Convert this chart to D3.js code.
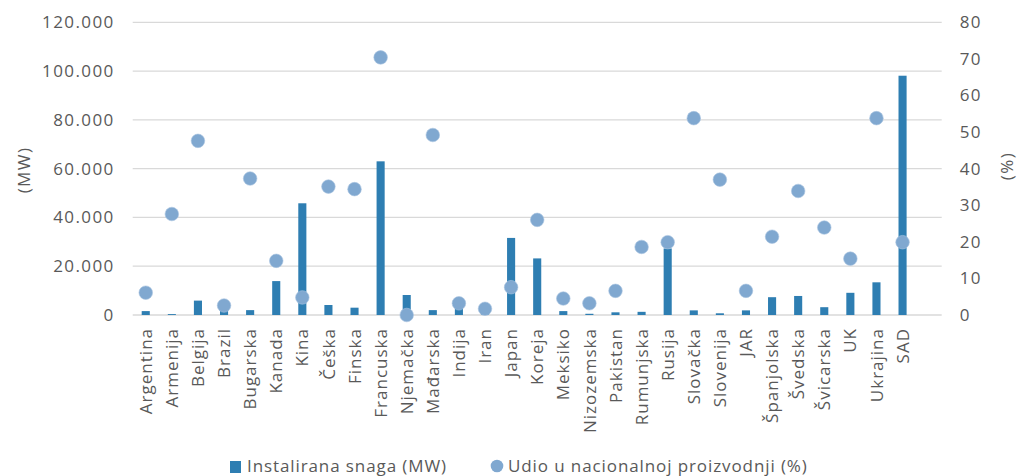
<!DOCTYPE html>
<html>
<head>
<meta charset="utf-8">
<script src="https://cdn.jsdelivr.net/npm/d3@7"></script>
<style>
  body { margin: 0; background: #fff; }
  text { font-family: "Open Sans", sans-serif; fill: #595959; }
</style>
</head>
<body>
<div id="chart"></div>
<script>
const width = 1019;
const height = 476;

// countries on the x axis
const countries = ["Argentina", "Armenija", "Belgija", "Brazil", "Bugarska", "Kanada", "Kina", "Češka",
  "Finska", "Francuska", "Njemačka", "Mađarska", "Indija", "Iran", "Japan", "Koreja", "Meksiko",
  "Nizozemska", "Pakistan", "Rumunjska", "Rusija", "Slovačka", "Slovenija", "JAR", "Španjolska",
  "Švedska", "Švicarska", "UK", "Ukrajina", "SAD"];

// installed capacity (MW)
const capacity = [1600, 375, 5900, 1900, 2000, 13900, 45800, 4100,
  3000, 63000, 8200, 2000, 4000, 900, 31600, 23200, 1600,
  500, 1100, 1300, 27300, 1900, 700, 1900, 7300,
  7800, 3200, 9100, 13400, 98100];

// share in national production (%)
const share = [6.1, 27.6, 47.6, 2.6, 37.3, 14.8, 4.8, 35.1,
  34.4, 70.4, 0, 49.2, 3.2, 1.7, 7.6, 26.0, 4.5,
  3.2, 6.6, 18.6, 19.9, 53.8, 37.0, 6.6, 21.4,
  33.9, 23.9, 15.4, 53.8, 19.9];

const leftTicks = [0, 20000, 40000, 60000, 80000, 100000, 120000];
const rightTicks = [0, 10, 20, 30, 40, 50, 60, 70, 80];

const plotLeft = 132.7, plotRight = 941.7, plotTop = 22.3, plotBottom = 315;
// the category axis leaves one empty slot at the right end
const step = (plotRight - plotLeft) / (countries.length + 1);

const svg = d3.select("#chart").append("svg")
  .attr("width", width)
  .attr("height", height);

const x = d3.scaleBand()
  .domain(countries)
  .range([plotLeft, plotLeft + step * countries.length])
  .paddingInner(0.69)
  .paddingOuter(0.345);

const yL = d3.scaleLinear().domain([0, 120000]).range([plotBottom, plotTop]);
const yR = d3.scaleLinear().domain([0, 80]).range([plotBottom, plotTop]);

const fmt = d => d === 0 ? "0" : d3.format(",")(d).replace(/,/g, ".");

// gridlines
svg.append("g")
  .selectAll("line")
  .data(leftTicks)
  .join("line")
  .attr("x1", plotLeft)
  .attr("x2", plotRight)
  .attr("y1", d => yL(d))
  .attr("y2", d => yL(d))
  .attr("stroke", "#d9d9d9")
  .attr("stroke-width", 1.3);

// left axis
const leftAxis = svg.append("g")
  .attr("transform", `translate(${plotLeft - 18},0)`)
  .call(d3.axisLeft(yL).tickValues(leftTicks).tickFormat(fmt).tickSize(0).tickPadding(0));
leftAxis.select(".domain").remove();
leftAxis.selectAll("text")
  .attr("font-size", "17px")
  .attr("letter-spacing", "1.4px")
  .attr("font-family", "Open Sans")
  .attr("fill", "#595959");

// right axis
const rightAxis = svg.append("g")
  .attr("transform", `translate(${plotRight + 18},0)`)
  .call(d3.axisRight(yR).tickValues(rightTicks).tickSize(0).tickPadding(0));
rightAxis.select(".domain").remove();
rightAxis.selectAll("text")
  .attr("font-size", "17px")
  .attr("letter-spacing", "1.4px")
  .attr("font-family", "Open Sans")
  .attr("fill", "#595959");

// axis titles
svg.append("text")
  .attr("transform", "translate(30,170) rotate(-90)")
  .attr("text-anchor", "middle")
  .attr("font-size", "17px")
  .attr("letter-spacing", "1.4px")
  .text("(MW)");

svg.append("text")
  .attr("transform", "translate(1013,166) rotate(-90)")
  .attr("text-anchor", "middle")
  .attr("font-size", "17px")
  .attr("letter-spacing", "1.4px")
  .text("(%)");

// bars
svg.append("g")
  .selectAll("rect")
  .data(countries)
  .join("rect")
  .attr("x", d => x(d))
  .attr("y", (d, i) => yL(capacity[i]))
  .attr("width", x.bandwidth())
  .attr("height", (d, i) => plotBottom - yL(capacity[i]))
  .attr("fill", "#2e7eb2");

// dots
svg.append("g")
  .selectAll("circle")
  .data(countries)
  .join("circle")
  .attr("cx", d => x(d) + x.bandwidth() / 2)
  .attr("cy", (d, i) => yR(share[i]))
  .attr("r", 6.8)
  .attr("fill", "#80a8d0")
  .attr("stroke", "#a9c4e0")
  .attr("stroke-width", 0.6);

// category labels
svg.append("g")
  .selectAll("text")
  .data(countries)
  .join("text")
  .attr("transform", d => `translate(${x(d) + x.bandwidth() / 2},${plotBottom + 13}) rotate(-90)`)
  .attr("text-anchor", "end")
  .attr("dy", "0.36em")
  .attr("font-size", "17px")
  .attr("letter-spacing", "1px")
  .text(d => d);

// legend
const legend = svg.append("g");
legend.append("rect")
  .attr("x", 230)
  .attr("y", 461)
  .attr("width", 11)
  .attr("height", 12)
  .attr("fill", "#2e7eb2");
legend.append("text")
  .attr("x", 247)
  .attr("y", 472)
  .attr("font-size", "17px")
  .attr("letter-spacing", "0.9px")
  .text("Instalirana snaga (MW)");
legend.append("circle")
  .attr("cx", 497)
  .attr("cy", 466)
  .attr("r", 6.3)
  .attr("fill", "#80a8d0");
legend.append("text")
  .attr("x", 508)
  .attr("y", 472)
  .attr("font-size", "17px")
  .attr("letter-spacing", "0.9px")
  .text("Udio u nacionalnoj proizvodnji (%)");
</script>
</body>
</html>
